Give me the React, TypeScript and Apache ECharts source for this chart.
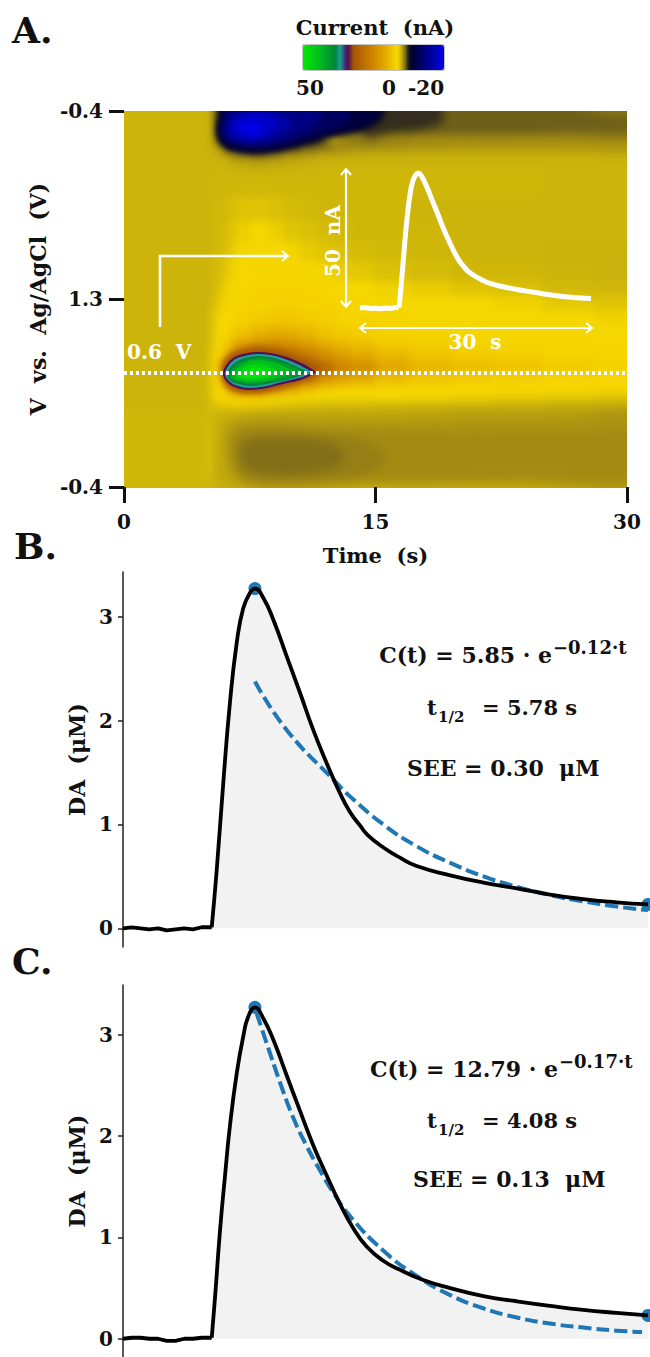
import React, { useEffect, useRef } from "react";
import * as echarts from "echarts";

// ---- Panel A: current (nA), time samples (16.77 per s) by scan samples
const columnEdges = [-24, 42, 83, 87, 92, 101, 109, 126, 143, 159, 176, 193, 210, 226, 251, 285, 327, 369, 419, 470, 527];
const rowEdges = [-24, 8, 16, 24, 32, 40, 48, 60, 85, 110, 130, 150, 170, 185, 200, 215, 228, 238, 250, 262, 274, 282, 290, 298, 310, 325, 345, 362, 372, 401];
const currentRows = [
  [1.5,1.5,1.4,1.0,-3,-6,-8,-8,-8,-8,-8,-7,-6,-5,-3.2,-1.8,-1.2,-0.9,-0.7,-0.4],
  [1.5,1.5,1.4,1.0,-3,-7,-9,-9,-9,-9,-8,-7,-6,-4.5,-3,-1.8,-1.2,-1,-0.8,-0.6],
  [1.5,1.5,1.4,1.0,-3,-7,-9,-9,-9,-8,-7,-5,-3.5,-3,-2.2,-1.5,-1.1,-1,-0.8,-0.7],
  [1.5,1.5,1.4,1.1,-2,-7,-9,-9,-8,-6,-4,-2.5,-1.8,-1.3,-1,-0.6,-0.4,-0.3,-0.2,-0.1],
  [1.5,1.5,1.5,1.2,0.3,-3.5,-5,-5,-4,-2.2,-1.2,-0.5,0,0.2,0.4,0.6,0.7,0.7,0.7,0.7],
  [1.5,1.5,1.5,1.4,1.2,0.5,-0.5,-1,-0.5,0.3,0.7,1,1.1,1.2,1.2,1.3,1.3,1.3,1.3,1.3],
  [1.5,1.5,1.5,1.5,1.5,1.4,1.2,1.1,1.2,1.3,1.4,1.5,1.5,1.5,1.5,1.5,1.5,1.5,1.5,1.5],
  [1.5,1.5,1.5,1.6,1.6,1.6,1.6,1.6,1.6,1.6,1.6,1.6,1.6,1.6,1.6,1.6,1.6,1.6,1.5,1.5],
  [1.5,1.5,1.5,1.6,1.65,1.8,2.1,2.2,2.0,1.8,1.7,1.6,1.6,1.6,1.6,1.5,1.5,1.5,1.5,1.5],
  [1.5,1.5,1.5,1.6,1.7,2.0,2.6,3,2.7,2.2,2,1.8,1.7,1.6,1.6,1.6,1.5,1.5,1.5,1.5],
  [1.5,1.5,1.5,1.6,1.75,2.2,2.9,3.2,3.2,2.9,2.5,2.2,2,1.8,1.7,1.6,1.5,1.5,1.45,1.4],
  [1.5,1.5,1.5,1.6,1.9,2.6,3.2,3.5,3.5,3.4,3.2,2.9,2.6,2.3,2,1.8,1.6,1.6,1.5,1.4],
  [1.5,1.5,1.5,1.6,2.2,3.0,3.5,3.8,3.8,3.8,3.6,3.4,3.2,3,2.8,2.5,2.2,2,1.7,1.6],
  [1.5,1.5,1.5,1.8,2.6,3.2,3.6,4,4.2,4.2,4,3.8,3.6,3.4,3.2,3.1,3,2.8,2.4,2.2],
  [1.5,1.5,1.6,2.2,3,3.4,4,5,5.5,5.5,5,4.5,4,3.8,3.5,3.3,3.2,3.1,3,2.8],
  [1.5,1.5,1.6,2.4,3.2,4,6,8,9,8.5,7.5,6,5,4.5,4,3.7,3.4,3.3,3.2,3.1],
  [1.5,1.5,1.6,2.6,3.5,6,11,14,15,14,11.5,9,7.5,6.5,5.2,4.6,4,3.7,3.4,3.3],
  [1.5,1.5,1.7,3,5,10,16,18,18,18,17,14,11,9.5,7.5,6,5,4.5,4,3.5],
  [1.5,1.5,1.8,3.2,7,14,20,20,20,20,20,19,16,14,10,8,6.8,6,5,4.2],
  [1.5,1.5,1.8,3.2,6,12,20,20,20,20,18,13,10.5,9,6.8,5.5,4.8,4.3,3.8,3.4],
  [1.5,1.5,1.7,3,3.5,9,17,20,16,11,7,4.5,3.8,3.5,3.3,3.2,3.1,3.1,3,3],
  [1.5,1.5,1.7,2.8,3.4,3.6,5,5,4,3.6,3.4,3.3,3.3,3.2,3.1,3,2.8,2.6,2.4,2.2],
  [1.5,1.5,1.7,2.2,2.4,2.6,2.8,2.6,2.4,2.2,2,1.9,1.8,1.8,1.7,1.6,1.5,1.4,1.3,1.2],
  [1.6,1.6,1.9,1.6,1.4,1.3,1.2,1.1,1,1,1,1,1,1,1,0.9,0.8,0.8,0.8,0.7],
  [1.6,1.6,2,1.5,1.2,1,0.8,0.7,0.7,0.7,0.7,0.7,0.7,0.7,0.7,0.7,0.7,0.7,0.7,0.7],
  [1.6,1.6,2.1,1.5,1.1,0.9,0.7,0.7,0.7,0.7,0.7,0.7,0.7,0.7,0.7,0.7,0.7,0.7,0.7,0.7],
  [1.6,1.6,2.1,1.5,1.1,0.9,0.7,0.7,0.7,0.7,0.7,0.7,0.7,0.7,0.7,0.7,0.7,0.7,0.7,0.7],
  [1.6,1.6,1.9,1.4,1.2,1,0.8,0.7,0.7,0.7,0.7,0.7,0.7,0.7,0.7,0.7,0.7,0.7,0.7,0.7],
  [1.6,1.6,1.7,1.4,1.3,1.3,1.2,1.2,1.2,1.2,1.2,1.2,1.2,1.2,1.2,1.2,1.2,1.2,1.2,1.2],
];

// Soft iso-current contours: the fading band at the top right, the dark area at the bottom
const softLevels = [0.5, -0.5, -1, -2, 0.4, 0.1, -0.2, -0.6];
const softOutlines = [
  [[200,-16],[527,-16],[527,34],[436,35],[356,35],[296,34],[246,33],[206,36]],
  [[210,-16],[527,-16],[527,24],[436,26],[356,26],[296,25],[246,25],[216,28]],
  [[220,-16],[420,-16],[470,2],[527,10],[527,18],[440,21],[370,23],[296,24],[250,24],[226,26]],
  [[230,-16],[305,-16],[320,8],[300,18],[270,22],[240,25]],
  [[108,316],[200,314],[300,312],[420,310],[527,308],[527,372],[400,372],[250,372],[120,372]],
  [[112,322],[210,320],[330,322],[430,322],[527,322],[527,364],[400,366],[250,368],[122,368]],
  [[114,326],[160,320],[225,326],[262,344],[240,364],[170,368],[118,364]],
  [[120,333],[160,327],[208,333],[222,347],[195,361],[140,363],[120,353]],
];

// Medium iso-current contours: the reduction peak and the brown halo of the oxidation peak
const midLevels = [-3, -5, -8, -11, -14, -17, -19.5, 20, 25];
const midOutlines = [
  [[92,19],[95,4],[98,-16],[261,-16],[261,0],[258,9],[246,17],[226,23],[201,28],[176,35],[151,41],[129,43],[111,40],[97,34]],
  [[96,-16],[256,-16],[254,5],[244,14],[226,20],[201,25],[176,32],[151,38],[129,40],[113,38],[99,32],[94,19],[97,4]],
  [[104,-16],[221,-16],[226,6],[216,15],[196,22],[176,29],[151,35],[129,37],[114,35],[101,30],[96,19],[100,4]],
  [[108,-16],[194,-16],[196,7],[186,17],[168,26],[148,32],[129,34],[116,33],[104,28],[99,19],[103,4]],
  [[136,-3],[161,4],[168,13],[161,21],[146,28],[131,31],[119,30],[107,26],[104,19],[106,11],[112,4]],
  [[109,21],[121,27],[134,27],[146,22],[153,11],[141,3],[121,3],[108,11]],
  [[116,17],[121,23],[132,24],[139,19],[134,12],[123,11]],
  [[97,264],[98,251],[108,241],[121,236],[134,234],[151,236],[166,239],[181,244],[196,250],[209,257],[196,264],[176,272],[161,277],[144,281],[126,283],[111,281],[101,275]],
  [[98,264],[99,254],[108,244],[120,240],[133,238],[147,239],[161,242],[175,247],[187,252],[197,259],[186,267],[174,271],[160,275],[144,279],[126,281],[112,279],[103,274]],
];

// Sharp iso-current contours of the oxidation peak
const sharpLevels = [27.5, 32, 34, 38, 42, 46, 49, 50];
const sharpOutlines = [
  [[99,264],[101,256],[109,247],[119,243],[133,241],[146,242],[159,245],[173,250],[183,255],[191,261],[184,266],[173,270],[159,273],[143,277],[126,279],[113,277],[104,272]],
  [[101,264],[103,257],[110,249],[120,245],[133,243],[146,244],[158,247],[171,252],[181,257],[187,261],[181,265],[171,268],[158,271],[143,275],[126,277],[114,275],[106,271]],
  [[103,264],[105,258],[112,251],[121,247],[133,245],[145,246],[157,249],[169,254],[178,258],[183,261],[178,264],[169,267],[157,270],[142,273],[126,275],[115,273],[107,270]],
  [[105,264],[107,259],[114,253],[123,249],[133,247],[144,248],[156,251],[167,255],[175,259],[179,261],[174,264],[167,266],[156,269],[142,271],[126,273],[116,271],[109,269]],
  [[108,265],[111,259],[118,254],[125,250],[134,249],[144,250],[154,253],[163,257],[169,261],[163,264],[153,267],[141,270],[126,271],[117,270],[111,268]],
  [[112,265],[115,260],[122,255],[131,253],[141,254],[150,258],[156,262],[149,265],[139,268],[126,269],[118,268]],
  [[116,265],[120,260],[127,257],[135,257],[143,260],[146,263],[138,266],[126,267],[120,267]],
  [[120,265],[125,261],[131,260],[136,263],[131,265],[125,266]],
];

// Colormap
const colormapValues = [-20, -5, -3, -2, -1, 0, 1.5, 3, 4, 10, 17, 25, 26, 27.5, 29, 30.5, 32, 33.5, 35, 42, 50];
const colormapColors = [
  [0,0,235],[0,0,60],[10,10,35],[50,45,30],[110,95,25],[160,135,20],[205,180,10],[245,215,0],[245,210,0],
  [225,165,0],[200,125,0],[165,85,5],[130,50,30],[80,15,90],[70,40,110],[30,120,130],[30,160,150],[0,130,70],
  [0,140,50],[0,190,30],[0,235,0],
];
const colorbarTicks = ["50", "0", "-20"];

// Panel A axes
const timeTicks = [0, 15, 30];
const voltageTicks = ["-0.4", "1.3", "-0.4"];
const dottedVoltageLine = [[0, 262], [30, 262]];

// Panel B
const baselineTimes = [0,0.5,1,1.5,2,2.5,3,3.5,4,4.5,5];
const baselineB = [0,0.01,0,-0.01,0,-0.02,-0.01,0,-0.01,0.01,0.01];
const baselineC = [0,0.01,0.01,0,0,-0.02,-0.02,0,0,0.01,0.01];
const timesB = [5.07,5.35,5.73,6.11,6.5,6.87,7.26,7.54,8.02,8.59,9.35,10.11,10.87,11.64,12.4,12.97,13.54,14.0,14.9,15.83,16.78,18.7,20.6,22.5,24.4,26.3,28.2,30];
const daB = [0.01,0.55,1.40,2.17,2.75,3.08,3.23,3.27,3.18,2.97,2.62,2.27,1.91,1.59,1.30,1.12,0.99,0.895,0.775,0.68,0.60,0.51,0.44,0.385,0.325,0.28,0.25,0.23];
const fitTimesB = [7.54,9.35,12.2,12.97,14.87,16.78,18.7,20.6,22.5,24.4,26.3,28.2,30];
const fitB = [2.376,1.91,1.40,1.27,1.0,0.79,0.63,0.50,0.40,0.32,0.26,0.21,0.175];

// Panel C
const timesC = [5.07,5.26,5.54,5.83,6.11,6.5,6.88,7.16,7.54,8.02,8.59,9.35,10.11,10.87,11.64,12.4,13.16,13.92,14.87,15.83,17.16,18.7,20.6,22.5,24.4,26.3,28.2,30];
const daC = [0.01,0.41,1.06,1.61,2.10,2.62,2.99,3.18,3.27,3.16,2.95,2.60,2.25,1.91,1.61,1.33,1.09,0.91,0.77,0.68,0.58,0.50,0.42,0.37,0.325,0.285,0.255,0.23];
const fitTimesC = [7.64,8.2,8.97,9.73,10.5,11.26,12.02,12.97,14.87,16.78,18.7,20.6,22.5,24.4,26.3,28.2,29.66];
const fitC = [3.21,2.92,2.53,2.18,1.90,1.66,1.44,1.21,0.87,0.62,0.43,0.30,0.21,0.15,0.11,0.08,0.066];
const daTicks = [0, 1, 2, 3];

const serifBold = "DejaVu Serif";

function colorAt(v: number) {
  let i = 0;
  while (i < colormapValues.length - 2 && v > colormapValues[i + 1]) i++;
  const f = (v - colormapValues[i]) / (colormapValues[i + 1] - colormapValues[i]);
  const c = colormapColors[i].map((a, k) => Math.round(a + (colormapColors[i + 1][k] - a) * f));
  return `rgb(${c[0]},${c[1]},${c[2]})`;
}
const colorSteps: string[] = [];
for (let k = 0; k <= 140; k++) colorSteps.push(colorAt(-20 + k * 0.5));

function zip(a: number[], b: number[]) {
  return a.map((x, i) => [x, b[i]]);
}

function heatOption(data: number[][], dimension: number, renderItem: any) {
  return {
    animation: false,
    grid: { left: 0, right: 0, top: 0, bottom: 0 },
    xAxis: { type: "value", min: -24, max: 527, show: false },
    yAxis: { type: "value", min: -24, max: 401, inverse: true, show: false },
    visualMap: { show: false, min: -20, max: 50, dimension, inRange: { color: colorSteps } },
    series: [{ type: "custom", data, renderItem, silent: true, clip: false, encode: { x: 0, y: 1 } }],
  };
}

function contourOption(levels: number[], outlines: number[][][]) {
  return heatOption(
    levels.map((lvl, i) => [outlines[i][0][0], outlines[i][0][1], lvl]),
    2,
    (p: any, api: any) => ({
      type: "polygon",
      shape: { points: outlines[p.dataIndex].map((pt) => api.coord(pt)), smooth: 0.35 },
      style: { fill: api.visual("color") },
    }),
  );
}

function text(t: string, x: number, y: number, size: number, align = "left", fill = "#111", rotation = 0) {
  return {
    type: "text", x, y, rotation, silent: true,
    style: { text: t, fontFamily: serifBold, fontWeight: "bold", fontSize: size, fill, textAlign: align, textVerticalAlign: "middle" },
  };
}
function whiteLine(points: number[][], width: number) {
  return {
    type: "polyline", silent: true,
    shape: { points },
    style: { stroke: "#fff", lineWidth: width, fill: null, lineJoin: "miter", lineCap: "butt" },
  };
}

export default function App() {
  const coarseRef = useRef<HTMLDivElement>(null);
  const softRef = useRef<HTMLDivElement>(null);
  const midRef = useRef<HTMLDivElement>(null);
  const sharpRef = useRef<HTMLDivElement>(null);
  const topRef = useRef<HTMLDivElement>(null);

  useEffect(() => {
    document.body.style.margin = "0";
    document.documentElement.style.overflow = "hidden";

    const coarse = echarts.init(coarseRef.current!, null, { renderer: "svg" });
    const cells: number[][] = [];
    currentRows.forEach((row, r) =>
      row.forEach((v, c) => cells.push([columnEdges[c], rowEdges[r], columnEdges[c + 1], rowEdges[r + 1], v])),
    );
    coarse.setOption(
      heatOption(cells, 4, (_p: any, api: any) => {
        const a = api.coord([api.value(0), api.value(1)]);
        const b = api.coord([api.value(2), api.value(3)]);
        return {
          type: "rect",
          shape: { x: a[0], y: a[1], width: b[0] - a[0] + 1, height: b[1] - a[1] + 1 },
          style: { fill: api.visual("color") },
        };
      }),
    );

    const soft = echarts.init(softRef.current!, null, { renderer: "svg" });
    soft.setOption(contourOption(softLevels, softOutlines));
    const mid = echarts.init(midRef.current!, null, { renderer: "svg" });
    mid.setOption(contourOption(midLevels, midOutlines));
    const sharp = echarts.init(sharpRef.current!, null, { renderer: "svg" });
    sharp.setOption(contourOption(sharpLevels, sharpOutlines));

    const blue = "#1f77b4";
    const tickFont = { fontFamily: serifBold, fontWeight: "bold", fontSize: 20, color: "#111" };
    const nameFont = { fontFamily: serifBold, fontWeight: "bold", fontSize: 22, color: "#111" };
    const daAxis = (gridIndex: number, min: number, max: number) => ({
      type: "value", gridIndex, min, max,
      name: "DA  (μM)", nameLocation: "middle", nameRotate: 90, nameGap: 32, nameTextStyle: nameFont,
      axisLine: { show: true, lineStyle: { color: "#222", width: 1.5 } },
      axisTick: { show: true, length: 5, lineStyle: { color: "#222", width: 1.5 }, customValues: daTicks },
      axisLabel: { show: true, margin: 10, ...tickFont, customValues: daTicks, formatter: (v: number) => String(v) },
      splitLine: { show: false },
    });
    const hiddenTime = (gridIndex: number) => ({ type: "value", gridIndex, min: 0, max: 30, show: false });
    const tracePanel = (ax: number, base: number[], t: number[], d: number[], ft: number[], f: number[], peak: number) => [
      {
        type: "line", xAxisIndex: ax, yAxisIndex: ax, symbol: "none", smooth: 0.5,
        data: zip(t, d), lineStyle: { width: 0 }, areaStyle: { color: "#f2f2f2", opacity: 1 }, z: 1,
      },
      {
        type: "scatter", xAxisIndex: ax, yAxisIndex: ax, symbolSize: 13, clip: false,
        data: [[t[peak], d[peak]], [t[t.length - 1], d[d.length - 1]]], itemStyle: { color: blue, opacity: 1 }, z: 2,
      },
      {
        type: "line", xAxisIndex: ax, yAxisIndex: ax, symbol: "none", smooth: 0.5,
        data: zip(ft, f), lineStyle: { color: blue, width: 4, type: [13, 5] }, z: 3,
      },
      {
        type: "line", xAxisIndex: ax, yAxisIndex: ax, symbol: "none",
        data: [...zip(baselineTimes, base), [t[0], d[0]]], lineStyle: { color: "#000", width: 3.8 }, z: 4,
      },
      {
        type: "line", xAxisIndex: ax, yAxisIndex: ax, symbol: "none", smooth: 0.5, clip: false,
        data: zip(t, d), lineStyle: { color: "#000", width: 3.8, join: "round" }, z: 4,
      },
    ];

    const top = echarts.init(topRef.current!, null, { renderer: "svg" });
    top.setOption({
      animation: false,
      backgroundColor: "transparent",
      grid: [
        { left: 124, top: 111, width: 503, height: 376 },
        { left: 360, top: 173, width: 231, height: 135 },
        { left: 123, top: 572, width: 525, height: 375 },
        { left: 123, top: 985, width: 525, height: 375 },
      ],
      xAxis: [
        {
          type: "value", gridIndex: 0, min: 0, max: 30, interval: 15,
          name: "Time  (s)", nameLocation: "middle", nameGap: 58, nameTextStyle: { ...nameFont, fontSize: 21 },
          axisLine: { show: false, onZero: false },
          axisTick: { show: true, length: 16, lineStyle: { color: "#111", width: 3 } },
          axisLabel: { show: true, margin: 25, ...tickFont, formatter: (v: number) => String(timeTicks[v / 15]) },
          splitLine: { show: false },
        },
        hiddenTime(1),
        hiddenTime(2),
        hiddenTime(3),
      ],
      yAxis: [
        {
          type: "value", gridIndex: 0, min: 0, max: 376, interval: 188, inverse: true,
          name: "V  vs.  Ag/AgCl  (V)", nameLocation: "middle", nameRotate: 90, nameGap: 75, nameTextStyle: nameFont,
          axisLine: { show: false, onZero: false },
          axisTick: { show: true, length: 15, lineStyle: { color: "#111", width: 3 } },
          axisLabel: { show: true, margin: 21, ...tickFont, formatter: (v: number) => voltageTicks[v / 188] },
          splitLine: { show: false },
        },
        { type: "value", gridIndex: 1, min: 0, max: 3.27, show: false },
        daAxis(2, -0.18, 3.43),
        daAxis(3, -0.18, 3.49),
      ],
      visualMap: {
        type: "continuous", show: true, seriesIndex: [], min: -20, max: 50, inverse: true, orient: "horizontal",
        left: 303, top: 45, padding: 0, itemWidth: 25, itemHeight: 141, calculable: false, hoverLink: false,
        text: null, inRange: { color: colorSteps },
      },
      series: [
        {
          type: "line", xAxisIndex: 0, yAxisIndex: 0, symbol: "none", data: dottedVoltageLine,
          lineStyle: { color: "#fff", width: 4, type: [3, 3] },
        },
        {
          type: "line", xAxisIndex: 1, yAxisIndex: 1, symbol: "none", clip: false,
          data: [...zip(baselineTimes, baselineB), [timesB[0], daB[0]]], lineStyle: { color: "#fff", width: 5 },
        },
        {
          type: "line", xAxisIndex: 1, yAxisIndex: 1, symbol: "none", smooth: 0.5, clip: false,
          data: zip(timesB, daB), lineStyle: { color: "#fff", width: 5, join: "round" },
        },
        ...tracePanel(2, baselineB, timesB, daB, fitTimesB, fitB, 7),
        ...tracePanel(3, baselineC, timesC, daC, fitTimesC, fitC, 8),
      ],
      graphic: [
        { type: "rect", silent: true, shape: { x: 303, y: 45, width: 141, height: 25 }, style: { fill: null, stroke: "#888", lineWidth: 1 } },
        text("A.", 12, 30, 36),
        text("B.", 14, 546, 36),
        text("C.", 12, 961, 36),
        text("Current  (nA)", 375, 27, 21, "center"),
        text(colorbarTicks[0], 310, 88, 20, "center"),
        text(colorbarTicks[1], 389, 88, 20, "center"),
        text(colorbarTicks[2], 426, 88, 20, "center"),
        // white annotations of panel A
        whiteLine([[160, 327], [160, 256], [287, 256]], 2.6),
        whiteLine([[282, 251], [288, 256], [282, 261]], 2),
        whiteLine([[346, 170], [346, 306]], 2.2),
        whiteLine([[341, 175], [346, 169], [351, 175]], 2),
        whiteLine([[341, 301], [346, 307], [351, 301]], 2),
        whiteLine([[361, 328], [590, 328]], 2.2),
        whiteLine([[366, 323], [360, 328], [366, 333]], 2),
        whiteLine([[586, 323], [592, 328], [586, 333]], 2),
        text("50  nA", 333, 241, 20, "center", "#fff", Math.PI / 2),
        text("30  s", 475, 342, 20, "center", "#fff"),
        text("0.6  V", 127, 352, 20, "left", "#fff"),
        // panel B annotations
        text("AUC", 289, 841, 22, "center"),
        text("C(t) = 5.85 · e", 552, 655, 22, "right"),
        text("−0.12·t", 553, 647, 18),
        text("t", 427, 707, 21),
        text("1/2", 438, 717, 15),
        text("= 5.78 s", 482, 707, 21),
        text("SEE = 0.30  μM", 407, 768, 22),
        // panel C annotations
        text("AUC", 289, 1255, 22, "center"),
        text("C(t) = 12.79 · e", 558, 1069, 22, "right"),
        text("−0.17·t", 559, 1061, 18),
        text("t", 427, 1120, 21),
        text("1/2", 438, 1130, 15),
        text("= 4.08 s", 482, 1120, 21),
        text("SEE = 0.13  μM", 413, 1179, 22),
      ],
    });

    return () => {
      coarse.dispose();
      soft.dispose();
      mid.dispose();
      sharp.dispose();
      top.dispose();
    };
  }, []);

  const heatBox: React.CSSProperties = { position: "absolute", left: -24, top: -24, width: 551, height: 425 };
  return (
    <div style={{ position: "relative", width: 650, height: 1357, background: "#fff", overflow: "hidden" }}>
      <div style={{ position: "absolute", left: 124, top: 111, width: 503, height: 377, overflow: "hidden" }}>
        <div ref={coarseRef} style={{ ...heatBox, filter: "blur(4.5px)" }} />
        <div ref={softRef} style={{ ...heatBox, filter: "blur(5px)" }} />
        <div ref={midRef} style={{ ...heatBox, filter: "blur(2.5px)" }} />
        <div ref={sharpRef} style={{ ...heatBox, filter: "blur(0.7px)" }} />
      </div>
      <div ref={topRef} style={{ position: "absolute", left: 0, top: 0, width: 650, height: 1357 }} />
    </div>
  );
}
